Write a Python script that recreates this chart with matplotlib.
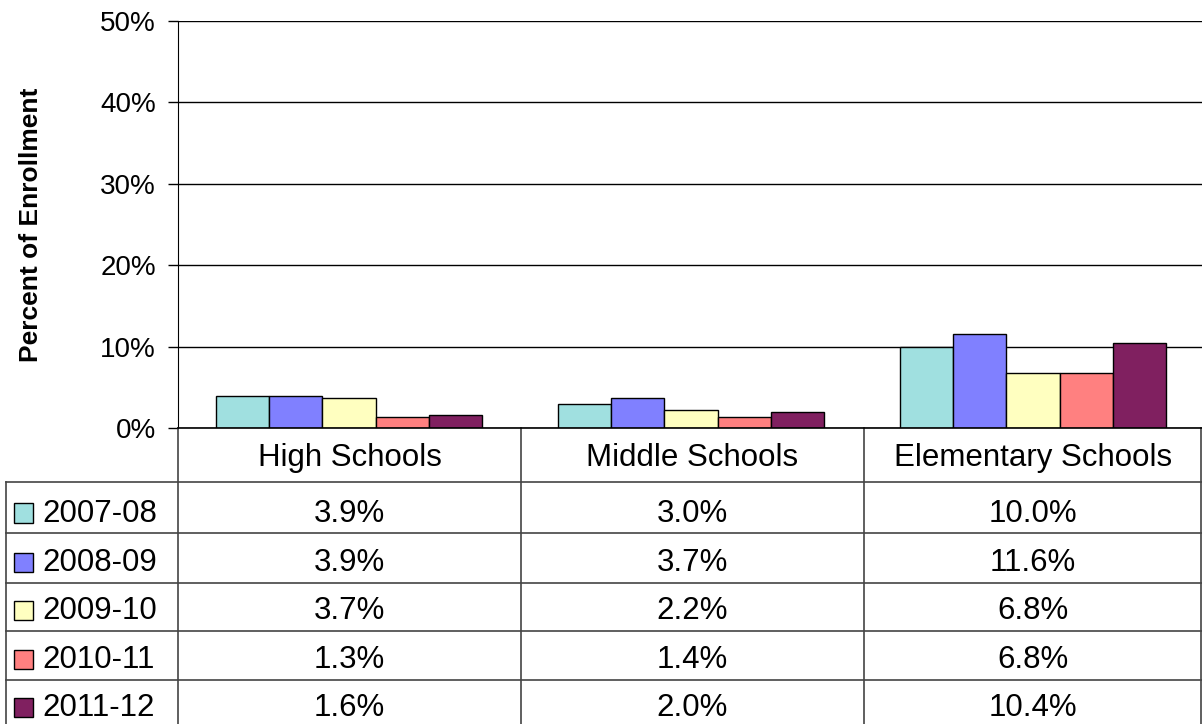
import matplotlib
matplotlib.use("Agg")
import matplotlib.pyplot as plt
from matplotlib.lines import Line2D
from matplotlib.patches import Rectangle

plt.rcParams['font.family'] = ['Liberation Sans', 'DejaVu Sans']

categories = ["High Schools", "Middle Schools", "Elementary Schools"]
years = ["2007-08", "2008-09", "2009-10", "2010-11", "2011-12"]
values = {
    "2007-08": [3.9, 3.0, 10.0],
    "2008-09": [3.9, 3.7, 11.6],
    "2009-10": [3.7, 2.2, 6.8],
    "2010-11": [1.3, 1.4, 6.8],
    "2011-12": [1.6, 2.0, 10.4],
}
colors = ["#A0E0E0", "#8080FF", "#FFFFC0", "#FF8080", "#802060"]
yticks = [0, 10, 20, 30, 40, 50]

W, H = 1202, 724
fig = plt.figure(figsize=(W / 100, H / 100), dpi=100)

def fx(px):
    return px / W

def fy(py):
    return 1 - py / H

ax_left, ax_right, ax_top, ax_bot = 178, 1204, 21, 428
ax = fig.add_axes([fx(ax_left), fy(ax_bot), fx(ax_right - ax_left), fy(ax_top) - fy(ax_bot)])
ax.set_xlim(-0.5, len(categories) - 0.5)
ax.set_ylim(0, 50)

bw = 0.155
n = len(years)
for i, (yr, c) in enumerate(zip(years, colors)):
    xs = [k + (i - (n - 1) / 2) * bw for k in range(len(categories))]
    ax.bar(xs, values[yr], width=bw, color=c, edgecolor="black", linewidth=1, zorder=3)

ax.set_yticks(yticks)
ax.set_yticklabels([f"{t}%" for t in yticks], fontsize=20)
ax.yaxis.grid(True, color="black", linewidth=1, zorder=0)
ax.set_xticks([])
for s in ["top", "right", "bottom"]:
    ax.spines[s].set_visible(False)
ax.spines["left"].set_color("black")
ax.tick_params(axis="y", length=7, width=1, color="black", pad=9)
fig.text(fx(31), fy(225), "Percent of Enrollment", rotation=90, ha="center", va="center",
         fontsize=19, fontweight="bold")

def line(x0, y0, x1, y1, color="#444444", lw=1.2):
    fig.add_artist(Line2D([fx(x0), fx(x1)], [fy(y0), fy(y1)], color=color, linewidth=lw))

col_edges = [178, 521, 864, 1202]
row_edges = [482, 533, 583, 631, 680, 729]
tbl_left = 6

line(tbl_left, row_edges[0], tbl_left, H)
for x in col_edges[:-1]:
    line(x, ax_bot, x, H)
line(1201, ax_bot, 1201, H)
line(ax_left, ax_bot, 1202, ax_bot, color="black")
for y in row_edges[:-1]:
    line(tbl_left, y, 1202, y)

fs = 22.5
for k, cat in enumerate(categories):
    cx = (col_edges[k] + col_edges[k + 1]) / 2
    fig.text(fx(cx), fy(458), cat, ha="center", va="center", fontsize=fs)

text_rows = [514, 563, 611, 660, 708]
for i, yr in enumerate(years):
    cy = text_rows[i]
    sw = 19
    sc = cy - 1
    fig.add_artist(Rectangle((fx(14), fy(sc + sw / 2)), fx(sw), fy(sc - sw / 2) - fy(sc + sw / 2),
                             facecolor=colors[i], edgecolor="black", linewidth=1, transform=fig.transFigure))
    fig.text(fx(42), fy(cy), yr, ha="left", va="center", fontsize=fs)
    for k in range(len(categories)):
        cx = (col_edges[k] + col_edges[k + 1]) / 2
        fig.text(fx(cx), fy(cy), f"{values[yr][k]:.1f}%", ha="center", va="center", fontsize=fs)

fig.savefig("out.png", dpi=100)
